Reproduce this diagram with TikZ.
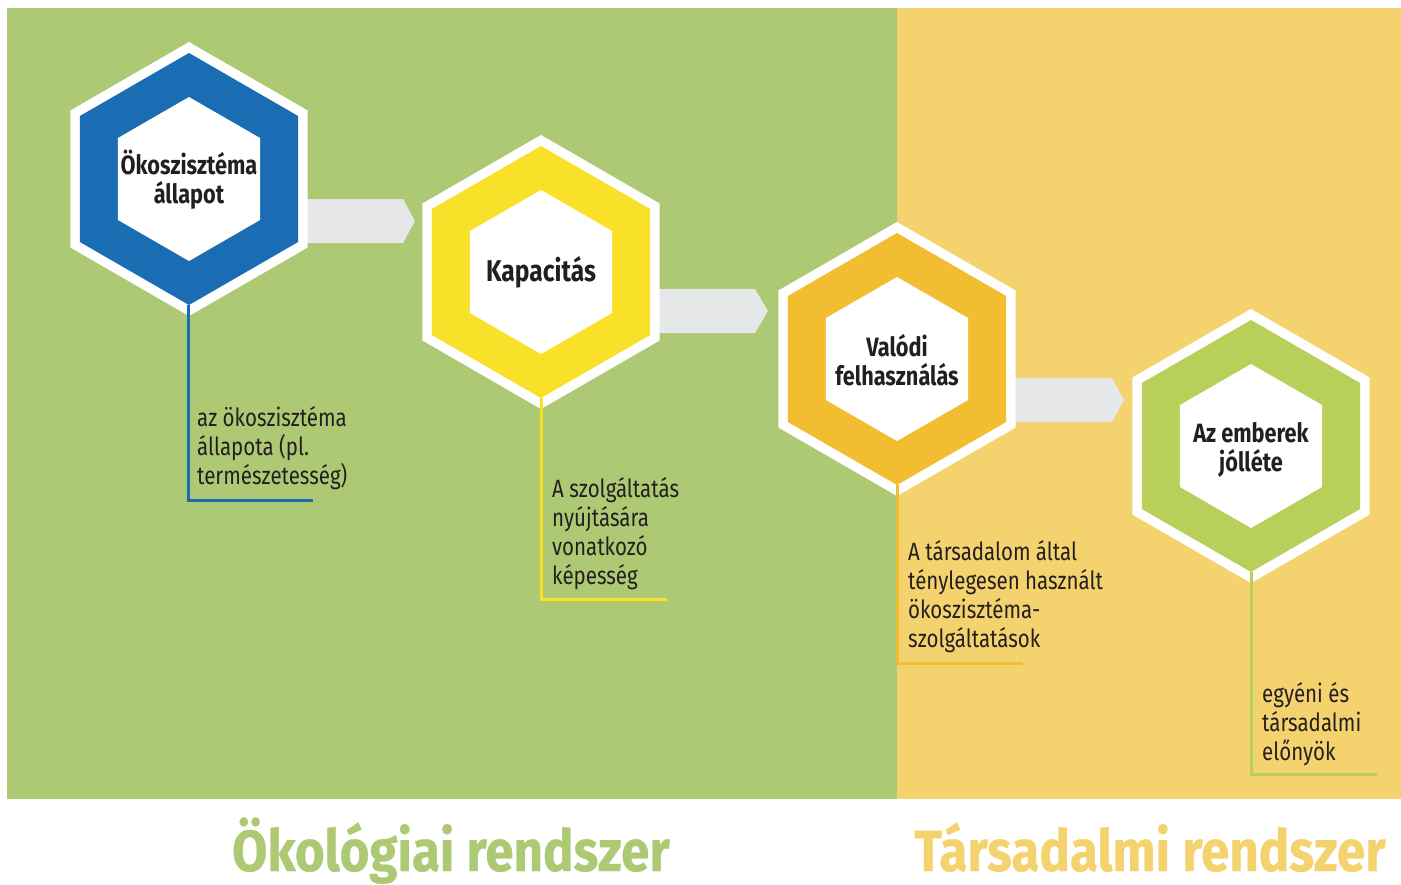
\documentclass[tikz,border=0pt]{standalone}
\usepackage{fontspec}
\setmainfont{Fira Sans}[FakeStretch=0.82]
\newfontfamily\sysfont{Fira Sans}[FakeStretch=0.88,FakeBold=0.6]
\usetikzlibrary{shapes.geometric,calc}
\definecolor{bggreen}{HTML}{ADC974}
\definecolor{bgyellow}{HTML}{F4D36F}
\definecolor{hblue}{HTML}{1B6DB3}
\definecolor{hyellow}{HTML}{F8E128}
\definecolor{horange}{HTML}{F3BD32}
\definecolor{hlime}{HTML}{B8D05A}
\definecolor{arrowgray}{HTML}{E6E7E8}
\definecolor{ink}{HTML}{231F20}
\tikzset{
  hexbase/.style={regular polygon, regular polygon sides=6, shape border rotate=30, inner sep=0pt, outer sep=0pt, draw=none},
  hexo/.style={hexbase, minimum size=274pt, fill=white},
  hexc/.style={hexbase, minimum size=252pt, fill=#1},
  hexi/.style={hexbase, minimum size=164pt, fill=white},
  title/.style={font=\bfseries\fontsize{26.5}{29}\selectfont, text=ink, align=center, inner sep=0pt},
  bigtitle/.style={font=\bfseries\fontsize{30}{32}\selectfont, text=ink, align=center, inner sep=0pt},
  body/.style={font=\fontsize{25}{29}\selectfont, text=ink, align=left, anchor=base west, inner sep=0pt},
  lead/.style={line width=3pt, draw=#1},
  garrow/.style={fill=arrowgray},
  sysname/.style={font=\sysfont\bfseries\fontsize{58}{60}\selectfont, text=#1, inner sep=0pt, anchor=base}
}
\begin{document}
\begin{tikzpicture}[x=1pt,y=-1pt]
\useasboundingbox (0,0) rectangle (1401,884);
% backgrounds
\fill[bggreen] (7,8) rectangle (897,799);
\fill[bgyellow] (897,8) rectangle (1401,799);
% arrows
\fill[garrow] (189,199) -- (403,199) -- (415,221) -- (403,243) -- (189,243) -- cycle;
\fill[garrow] (541,289) -- (755,289) -- (768,311) -- (755,333) -- (541,333) -- cycle;
\fill[garrow] (897,378) -- (1112,378) -- (1124,400) -- (1112,422) -- (897,422) -- cycle;
% hexagons
\foreach \i/\x/\y/\c in {1/189/179/hblue, 2/541/272/hyellow, 3/897/359/horange, 4/1251/446/hlime}{
  \node[hexo] (o\i) at (\x,\y) {};
  \node[hexc=\c] (c\i) at (\x,\y) {};
  \node[hexi] (h\i) at (\x,\y) {};
}
% titles
\node[title] (t1) at ($(h1.center)+(0,1)$) {Ökoszisztéma\\állapot};
\node[bigtitle] (t2) at ($(h2.center)+(0,0)$) {Kapacitás};
\node[title] (t3) at ($(h3.center)+(0,1)$) {Valódi\\felhasználás};
\node[title] (t4) at ($(h4.center)+(0,4)$) {Az emberek\\jólléte};
% leaders
\coordinate (e1) at (313,500);
\coordinate (e2) at (667,599);
\coordinate (e3) at (1023,663);
\coordinate (e4) at (1377,774);
\draw[lead=hblue] ($(c1.center)+(-1,126)$) |- (e1);
\draw[lead=hyellow] ($(c2.center)+(0,126)$) |- (e2);
\draw[lead=horange] ($(c3.center)+(0,126)$) |- (e3);
\draw[lead=hlime] ($(c4.center)+(0,126)$) |- (e4);
% descriptions (anchor = baseline of last line)
\node[body] (d1) at (197,484) {az ökoszisztéma\\állapota (pl.\\természetesség)};
\node[body] (d2) at (552,584) {A szolgáltatás\\nyújtására\\vonatkozó\\képesség};
\node[body] (d3) at (908,647) {A társadalom által\\ténylegesen használt\\ökoszisztéma-\\szolgáltatások};
\node[body] (d4) at (1262,760) {egyéni és\\társadalmi\\előnyök};
% system names
\node[sysname=bggreen] (s1) at (451,871) {Ökológiai rendszer};
\node[sysname=bgyellow] (s2) at (1150,871) {Társadalmi rendszer};
\end{tikzpicture}
\end{document}
